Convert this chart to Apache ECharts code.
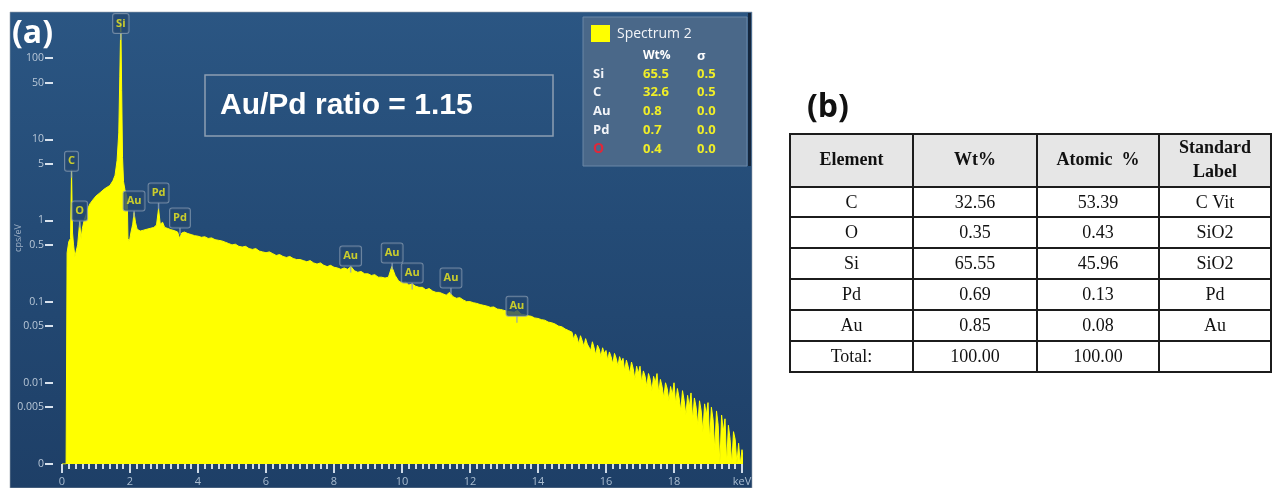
<!DOCTYPE html>
<html><head><meta charset="utf-8">
<script src="https://cdn.jsdelivr.net/npm/echarts@6/dist/echarts.min.js"></script>
<style>html,body{margin:0;padding:0;background:#fff}#c{width:1272px;height:488px}</style>
</head><body><div id="c"></div>
<script>
// ---- spectrum (keV, cps/eV) ----
const spectrumLow = [
  [0.00,0.001],[0.12,0.001],[0.15,0.4],[0.20,0.55],[0.25,0.6],[0.28,4.2],[0.31,0.7],[0.34,0.5],
  [0.38,0.36],[0.42,0.38],[0.46,0.5],[0.52,0.95],[0.56,0.6],[0.60,0.8],[0.65,1.0],[0.70,1.15],
  [0.76,1.4],[0.82,1.6],[0.91,1.8],[1.00,2.0],[1.12,2.2],[1.25,2.45],[1.41,2.7],[1.50,3.1],
  [1.56,3.6],[1.62,5.5],[1.67,12],[1.70,60],[1.73,300],[1.755,40],[1.78,6],[1.81,3.0],
  [1.85,2.4],[1.89,2.1],[1.92,1.8],[1.94,0.6],[1.98,0.55],[2.03,0.72],[2.08,0.9],[2.12,1.25],
  [2.16,0.95],[2.21,0.78],[2.30,0.74],[2.40,0.76],[2.50,0.78],[2.60,0.8],[2.70,0.82],[2.78,0.88],
  [2.84,1.4],[2.89,0.9],[2.96,0.95],[3.02,0.82],[3.10,0.8],[3.20,0.77],[3.30,0.75],[3.40,0.72],
  [3.46,0.6],[3.52,0.7],[3.60,0.72],[3.70,0.69],[3.80,0.67],[3.90,0.65]
];
// 4.0 .. 14.9 keV, 0.1 keV channels
const cpsMid = [
  0.64,0.62,0.63,0.60,0.61,0.58,0.57,0.56,0.54,0.52,
  0.50,0.51,0.48,0.47,0.48,0.45,0.44,0.45,0.42,0.41,
  0.40,0.41,0.39,0.37,0.38,0.36,0.35,0.36,0.34,0.33,
  0.33,0.32,0.31,0.32,0.30,0.29,0.30,0.28,0.27,0.28,
  0.265,0.26,0.25,0.26,0.25,0.27,0.24,0.23,0.235,0.22,
  0.22,0.21,0.215,0.20,0.20,0.195,0.20,0.27,0.21,0.18,
  0.17,0.175,0.16,0.165,0.155,0.15,0.15,0.14,0.145,0.135,
  0.13,0.13,0.125,0.12,0.13,0.115,0.11,0.112,0.105,0.10,
  0.10,0.097,0.095,0.092,0.09,0.088,0.085,0.086,0.081,0.08,
  0.078,0.076,0.075,0.074,0.078,0.07,0.069,0.067,0.066,0.063,
  0.062,0.06,0.059,0.056,0.055,0.053,0.05,0.049,0.046,0.044
];
// 15.00 .. 20.20 keV, 0.05 keV channels
const cpsTail = [
  0.042,0.034,0.040,0.036,0.030,0.038,0.033,0.028,0.035,0.030,
  0.031,0.025,0.032,0.027,0.022,0.029,0.026,0.021,0.027,0.023,
  0.025,0.019,0.024,0.021,0.017,0.023,0.020,0.016,0.021,0.018,
  0.020,0.014,0.019,0.016,0.013,0.018,0.015,0.011,0.016,0.013,
  0.016,0.010,0.014,0.012,0.009,0.013,0.011,0.008,0.012,0.010,
  0.013,0.0075,0.011,0.009,0.0065,0.010,0.0085,0.006,0.009,0.007,
  0.010,0.0055,0.0085,0.0065,0.0045,0.008,0.006,0.004,0.007,0.005,
  0.0075,0.0035,0.0065,0.005,0.003,0.006,0.0045,0.0025,0.0055,0.004,
  0.0057,0.002,0.005,0.0035,0.0015,0.0045,0.003,0.001,0.004,0.0025,
  0.0036,0.001,0.003,0.002,0.001,0.0025,0.002,0.001,0.0018,0.001,
  0.0015,0.001,0.0015,0.001,0.001
];
// ---- axis ticks ----
const yTickValues = [0.001,0.005,0.01,0.05,0.1,0.5,1,5,10,50,100];
const yTickLabels = ['0','0.005','0.01','0.05','0.1','0.5','1','5','10','50','100'];
const yAxisTitle = 'cps/eV';
// ---- peak identification labels ----
const peakNames  = ['C','O','Si','Au','Pd','Pd','Au','Au','Au','Au','Au'];
const peakEnergy = [0.28,0.52,1.73,2.12,2.84,3.47,8.49,9.71,10.3,11.44,13.38];
const peakLevel  = [4.1,1.0,204,1.33,1.67,0.82,0.278,0.303,0.172,0.149,0.067];
// ---- spectrum legend ----
const legendElements = ['Si','C','Au','Pd','O'];
const legendWt = ['65.5','32.6','0.8','0.7','0.4'];
const legendSigma = ['0.5','0.5','0.0','0.0','0.0'];
// ---- table (b) ----
const tableHeader = ['Element','Wt%','Atomic  %','Standard\nLabel'];
const tableElement = ['C','O','Si','Pd','Au','Total:'];
const tableWt = ['32.56','0.35','65.55','0.69','0.85','100.00'];
const tableAtomic = ['53.39','0.43','45.96','0.13','0.08','100.00'];
const tableStd = ['C Vit','SiO2','SiO2','Pd','Au',''];

const spectrum = spectrumLow
  .concat(cpsMid.map((v,i)=>[+(4+i*0.1).toFixed(2), v]))
  .concat(cpsTail.map((v,i)=>[+(15+i*0.05).toFixed(2), v]));

const peaks = peakNames.map((n,i)=>({name:n, value:[peakEnergy[i], peakLevel[i]]}));

const graphics = [];
// panel (a) background
graphics.push({type:'rect', z:-10, silent:true, shape:{x:10,y:12,width:742,height:476},
  style:{fill:new echarts.graphic.LinearGradient(0,0,0,1,[
    {offset:0,color:'#2b5683'},{offset:0.45,color:'#244b76'},{offset:1,color:'#1e3f67'}]),
    stroke:'#9aa4ae', lineWidth:0.6}});
graphics.push({type:'text', z:50, x:12, y:34, style:{text:'(a)', fill:'#ffffff',
  font:'bold 32px "Open Sans"', align:'left', verticalAlign:'middle'}});
graphics.push({type:'text', z:50, x:18, y:238, rotation:Math.PI/2, style:{text:yAxisTitle, fill:'#9fb1c6',
  font:'9px "Open Sans"', align:'center', verticalAlign:'middle'}});
// ratio box
graphics.push({type:'rect', z:50, shape:{x:205,y:75,width:348,height:61},
  style:{fill:'none', stroke:'#8d9eb2', lineWidth:1.5}});
graphics.push({type:'text', z:51, x:220, y:106, style:{text:'Au/Pd ratio = 1.15', fill:'#ffffff',
  font:'bold 30px "Liberation Sans"', align:'left', verticalAlign:'middle'}});
// spectrum legend
graphics.push({type:'rect', z:50, shape:{x:583,y:17,width:164,height:149},
  style:{fill:'#4a6889', stroke:'#6a87a6', lineWidth:1}});
graphics.push({type:'rect', z:50, shape:{x:748,y:13,width:3,height:153}, style:{fill:'#14263d'}});
graphics.push({type:'rect', z:51, shape:{x:591,y:25,width:19,height:17}, style:{fill:'#ffff00'}});
graphics.push({type:'text', z:51, x:617, y:34, style:{text:'Spectrum 2', fill:'#f2f4f8',
  font:'14px "Open Sans"', align:'left', verticalAlign:'middle'}});
graphics.push({type:'text', z:51, x:643, y:56, style:{text:'Wt%', fill:'#ffffff',
  font:'bold 12px "Open Sans"', align:'left', verticalAlign:'middle'}});
graphics.push({type:'text', z:51, x:697, y:56, style:{text:'σ', fill:'#ffffff',
  font:'bold 13px "Open Sans"', align:'left', verticalAlign:'middle'}});
legendElements.forEach((el,i)=>{
  const y = 74 + i*18.7;
  graphics.push({type:'text', z:51, x:593, y:y, style:{text:el, fill: el==='O' ? '#e0283a' : '#f2f4f8',
    font:(el==='O'?'bold 14px':'bold 13px')+' "Open Sans"', align:'left', verticalAlign:'middle'}});
  graphics.push({type:'text', z:51, x:643, y:y, style:{text:legendWt[i], fill:'#f0ee28',
    font:'bold 13px "Open Sans"', align:'left', verticalAlign:'middle'}});
  graphics.push({type:'text', z:51, x:697, y:y, style:{text:legendSigma[i], fill:'#f0ee28',
    font:'bold 13px "Open Sans"', align:'left', verticalAlign:'middle'}});
});
// panel (b)
graphics.push({type:'text', z:50, x:807, y:108, style:{text:'(b)', fill:'#111111',
  font:'bold 32px "Open Sans"', align:'left', verticalAlign:'middle'}});
const colX = [790, 913, 1037, 1159, 1271];
const rowY = [134, 187, 217, 248, 279, 310, 341, 372];
graphics.push({type:'rect', z:50, shape:{x:colX[0], y:rowY[0], width:colX[4]-colX[0], height:rowY[1]-rowY[0]},
  style:{fill:'#e6e6e6'}});
rowY.forEach(y=>graphics.push({type:'line', z:52, shape:{x1:colX[0]-1,y1:y,x2:colX[4]+1,y2:y},
  style:{stroke:'#1c1c1c', lineWidth:2}}));
colX.forEach(x=>graphics.push({type:'line', z:52, shape:{x1:x,y1:rowY[0],x2:x,y2:rowY[rowY.length-1]},
  style:{stroke:'#1c1c1c', lineWidth:2}}));
tableHeader.forEach((h,j)=>graphics.push({type:'text', z:53, x:(colX[j]+colX[j+1])/2, y:(rowY[0]+rowY[1])/2,
  style:{text:h, fill:'#111', font:'bold 18px "Liberation Serif"', lineHeight:24, align:'center', verticalAlign:'middle'}}));
const bodyCols = [tableElement, tableWt, tableAtomic, tableStd];
tableElement.forEach((_,r)=>{
  bodyCols.forEach((col,j)=>graphics.push({type:'text', z:53, x:(colX[j]+colX[j+1])/2, y:(rowY[r+1]+rowY[r+2])/2+1,
    style:{text:col[r], fill:'#111', font:'18px "Liberation Serif"', align:'center', verticalAlign:'middle'}}));
});

const chart = echarts.init(document.getElementById('c'), null, {renderer:'canvas'});
chart.setOption({
  animation:false,
  backgroundColor:'#ffffff',
  grid:{left:62, right:530, top:12, bottom:24, containLabel:false, outerBoundsMode:'none'},
  xAxis:{
    type:'value', min:0, max:20, interval:2,
    axisLine:{show:false, onZero:false},
    axisTick:{show:true, length:9, lineStyle:{color:'#cfdbe8', width:2}},
    minorTick:{show:true, splitNumber:10, length:5, lineStyle:{color:'#cfdbe8', width:2}},
    splitLine:{show:false},
    axisLabel:{color:'#a9bcd0', fontSize:11, fontFamily:'"Open Sans"', margin:12, showMaxLabel:true,
      formatter:v=> v===20 ? 'keV' : String(v)}
  },
  yAxis:{
    type:'log', min:0.000999, max:370, offset:9,
    axisLine:{show:false, onZero:false},
    axisTick:{show:true, length:8, customValues:yTickValues, lineStyle:{color:'#d9e3ee', width:2}},
    minorTick:{show:false},
    splitLine:{show:false},
    axisLabel:{color:'#b8c7d7', fontSize:10.5, fontFamily:'"Open Sans"', margin:9, customValues:yTickValues,
      formatter:v=>{ const i = yTickValues.findIndex(t=>Math.abs(Math.log10(t)-Math.log10(v))<1e-6); return i>=0 ? yTickLabels[i] : ''; }}
  },
  series:[
    {type:'line', data:spectrum, symbol:'none', showSymbol:false, clip:true, z:2,
      lineStyle:{color:'#ffff00', width:1}, areaStyle:{color:'#ffff00', opacity:1, origin:'start'}},
    {type:'scatter', data:peaks, symbol:'rect', symbolSize:[1.5,7], symbolOffset:[0,3.5], z:5,
      itemStyle:{color:'#8ea2b8'},
      label:{show:true, position:'top', distance:0, formatter:'{b}', color:'#f2ee1c', fontSize:11, fontWeight:'bold',
        fontFamily:'"Open Sans"', lineHeight:13, backgroundColor:'#24476f', borderColor:'#8397ae', borderWidth:1,
        borderRadius:2, padding:[3,3,3,3]}}
  ],
  graphic:{elements:graphics}
});
</script></body></html>
